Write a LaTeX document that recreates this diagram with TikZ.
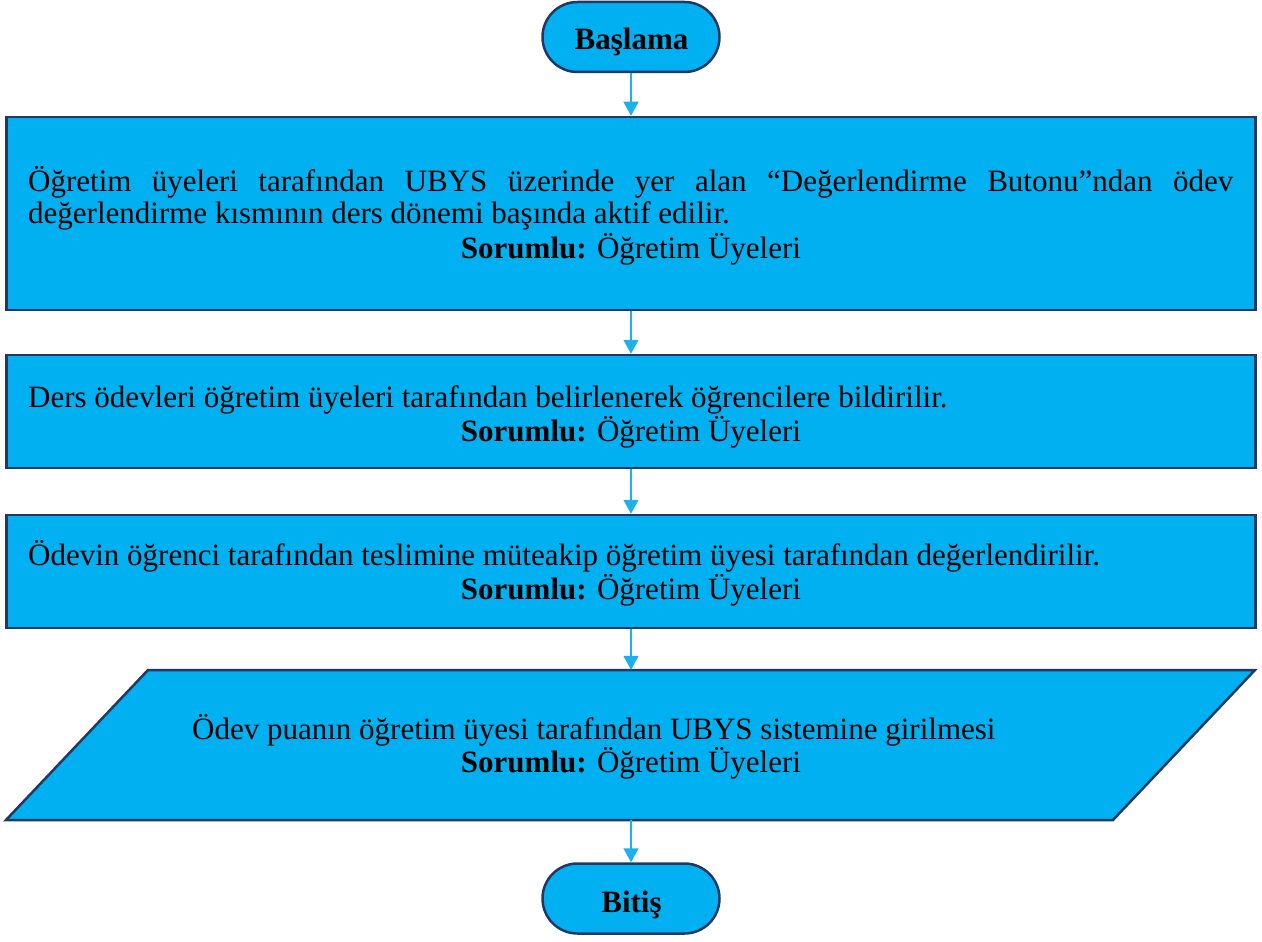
\documentclass[tikz,border=0pt]{standalone}
\usepackage{fontspec}
\setmainfont{Liberation Serif}
\usetikzlibrary{arrows.meta}
\definecolor{fillblue}{HTML}{00B0F0}
\definecolor{navy}{HTML}{1F3864}
\definecolor{arrowblue}{HTML}{1CB1EC}
\begin{document}
\begin{tikzpicture}[x=1pt,y=-1pt,
  box/.style={draw=navy, line width=2.5pt, fill=fillblue, inner sep=0pt},
  term/.style={box, rounded corners=35pt, minimum width=177pt, minimum height=70pt},
  txt/.style={inner sep=0pt, font=\fontsize{31}{36}\selectfont},
  bold/.style={txt, font=\fontsize{31}{36}\selectfont\bfseries},
  flow/.style={draw=arrowblue, line width=1.5pt, -{Triangle[width=15pt,length=14pt]}}
]
\useasboundingbox (0,0) rectangle (1262,942);
% shapes
\node[term] (start) at (631,37) {};
\node[box, minimum width=1249pt, minimum height=193pt] (b1) at (631,213.5) {};
\node[box, minimum width=1249pt, minimum height=113pt] (b2) at (631,411.5) {};
\node[box, minimum width=1249pt, minimum height=113pt] (b3) at (631,571.5) {};
\draw[draw=navy, line width=2.5pt, fill=fillblue] (148,670) -- (1255,670) -- (1113,820) -- (6,820) -- cycle;
\node[inner sep=0pt, minimum width=960pt, minimum height=150pt] (para) at (631,745) {};
\node[term] (end) at (631,898.5) {};
% texts
\node[bold, anchor=base] (tstart) at (631.5,50) {Başlama};
\node[bold, anchor=base] (tend) at (631.5,912) {Bitiş};
\node[txt, anchor=base west] (t1a) at (28,191) {\makebox[1205pt][s]{Öğretim üyeleri tarafından UBYS üzerinde yer alan “Değerlendirme Butonu”ndan ödev}};
\node[txt, anchor=base west] (t1b) at (28,223) {değerlendirme kısmının ders dönemi başında aktif edilir.};
\node[txt, anchor=base] (t1c) at (631,258) {\textbf{Sorumlu:} Öğretim Üyeleri};
\node[txt, anchor=base west] (t2a) at (28,407) {Ders ödevleri öğretim üyeleri tarafından belirlenerek öğrencilere bildirilir.};
\node[txt, anchor=base] (t2b) at (631,441) {\textbf{Sorumlu:} Öğretim Üyeleri};
\node[txt, anchor=base west] (t3a) at (28,565) {Ödevin öğrenci tarafından teslimine müteakip öğretim üyesi tarafından değerlendirilir.};
\node[txt, anchor=base] (t3b) at (631,599) {\textbf{Sorumlu:} Öğretim Üyeleri};
\node[txt, anchor=base west] (t4a) at (192,739) {Ödev puanın öğretim üyesi tarafından UBYS sistemine girilmesi};
\node[txt, anchor=base] (t4b) at (631,772) {\textbf{Sorumlu:} Öğretim Üyeleri};
% connectors
\draw[flow] (start.south) -- (b1.north);
\draw[flow] (b1.south) -- (b2.north);
\draw[flow] (b2.south) -- (b3.north);
\draw[flow] (b3.south) -- (para.north);
\draw[flow] (para.south) -- (end.north);
\end{tikzpicture}
\end{document}
